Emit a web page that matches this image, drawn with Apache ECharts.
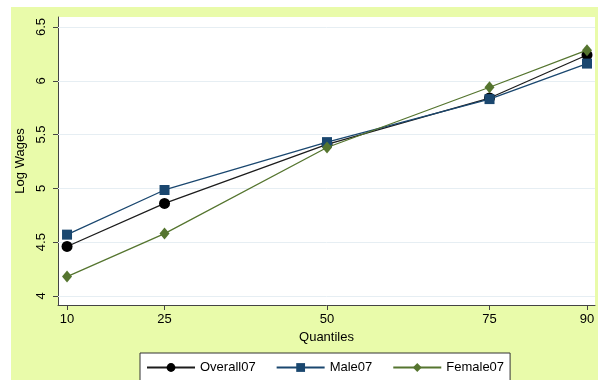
<!DOCTYPE html>
<html><head><meta charset="utf-8">
<script src="https://cdn.jsdelivr.net/npm/echarts@6/dist/echarts.min.js"></script>
<style>
html,body{margin:0;padding:0;background:#fff;width:598px;height:380px;overflow:hidden;}
#main{position:absolute;left:11px;top:7px;width:587px;height:373px;background:#e9fbaa;}
</style></head>
<body><div id="main"></div>
<script>
const quantiles = [10, 25, 50, 75, 90];
const overall07 = [4.46, 4.86, 5.41, 5.84, 6.24];
const male07 = [4.57, 4.985, 5.43, 5.83, 6.16];
const female07 = [4.18, 4.58, 5.38, 5.94, 6.285];
const yTicks = [4, 4.5, 5, 5.5, 6, 6.5];
const xTicks = [10, 25, 50, 75, 90];

const font = 'Liberation Sans, Arial, sans-serif';
const chart = echarts.init(document.getElementById('main'), null, {renderer: 'canvas'});
const pairs = arr => quantiles.map((q, i) => [q, arr[i]]);
chart.setOption({
  animation: false,
  textStyle: {fontFamily: font},
  grid: {left: 47, top: 10, right: 3, bottom: 75, show: true, backgroundColor: '#fff', borderWidth: 0,
         containLabel: false, outerBoundsMode: 'none'},
  xAxis: {
    type: 'value', min: 8.61, max: 91.23,
    name: 'Quantiles', nameLocation: 'middle', nameGap: 24,
    nameTextStyle: {fontSize: 13, color: '#000', fontFamily: font},
    axisLine: {show: true, lineStyle: {color: '#444', width: 1}},
    axisTick: {show: true, length: 5, customValues: xTicks, lineStyle: {color: '#444'}},
    axisLabel: {customValues: xTicks, fontSize: 13, color: '#000', margin: 8, fontFamily: font},
    splitLine: {show: false}
  },
  yAxis: {
    type: 'value', min: 3.916, max: 6.593,
    name: 'Log Wages', nameLocation: 'middle', nameGap: 24,
    nameTextStyle: {fontSize: 13, color: '#000', fontFamily: font},
    axisLine: {show: true, lineStyle: {color: '#444', width: 1}},
    axisTick: {show: true, length: 5, customValues: yTicks, lineStyle: {color: '#444'}},
    axisLabel: {customValues: yTicks, fontSize: 13, color: '#000', rotate: 90, margin: 10, fontFamily: font},
    splitLine: {show: false}
  },
  legend: {
    left: 129, top: 346,
    backgroundColor: '#fff', borderColor: '#333', borderWidth: 1,
    padding: [8, 6, 20, 6],
    itemWidth: 48, itemHeight: 11, itemGap: 20,
    textStyle: {fontSize: 13, color: '#000', fontFamily: font},
    data: ['Overall07', 'Male07', 'Female07']
  },
  series: [
    {
      name: 'grid', type: 'line', data: [], z: 1, silent: true,
      markLine: {
        z: 1, silent: true, symbol: 'none', label: {show: false},
        lineStyle: {color: '#e6eef3', width: 1, type: 'solid'},
        data: yTicks.map(v => ({yAxis: v}))
      }
    },
    {
      name: 'Overall07', type: 'line', data: pairs(overall07),
      symbol: 'circle', symbolSize: 11, z: 10,
      itemStyle: {color: '#000'}, lineStyle: {color: '#1c1c1c', width: 1.3}
    },
    {
      name: 'Male07', type: 'line', data: pairs(male07),
      symbol: 'rect', symbolSize: 10, z: 11,
      itemStyle: {color: '#1a476f'}, lineStyle: {color: '#1a476f', width: 1.3}
    },
    {
      name: 'Female07', type: 'line', data: pairs(female07),
      symbol: 'diamond', symbolSize: [10, 12], z: 12,
      itemStyle: {color: '#55752f'}, lineStyle: {color: '#55752f', width: 1.3}
    }
  ]
});
</script></body></html>
